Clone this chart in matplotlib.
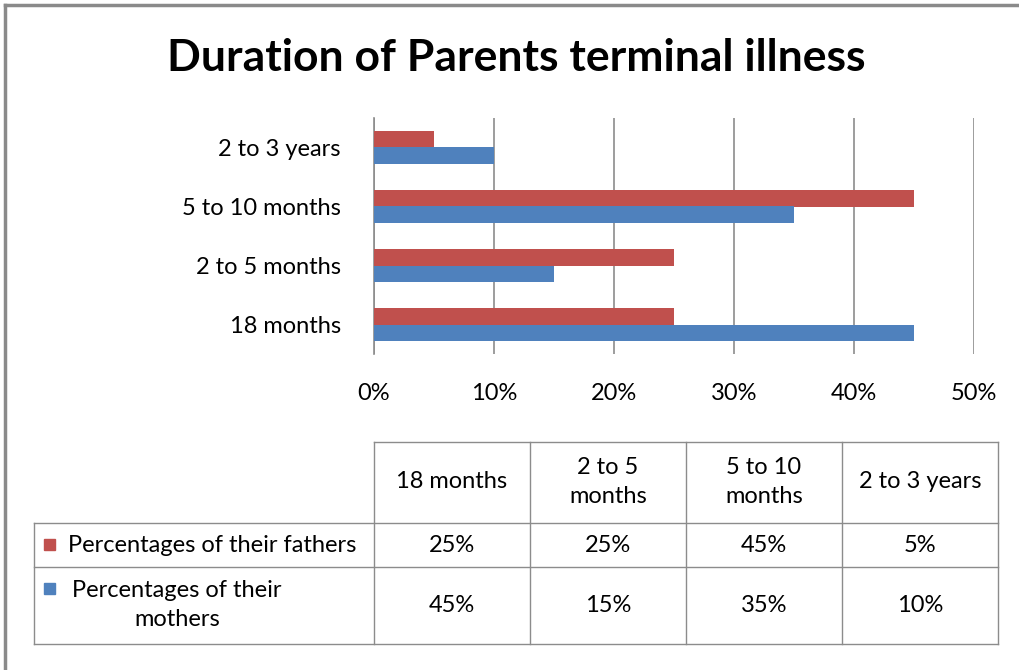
import numpy as np
import matplotlib.pyplot as plt
from matplotlib.patches import Rectangle

plt.rcParams['font.family'] = ['Lato', 'DejaVu Sans']

categories = ['18 months', '2 to 5 months', '5 to 10 months', '2 to 3 years']
header_labels = ['18 months', '2 to 5\nmonths', '5 to 10\nmonths', '2 to 3 years']
fathers = [25, 25, 45, 5]
mothers = [45, 15, 35, 10]
series_names = ['Percentages of their fathers', 'Percentages of their\nmothers']
x_ticks = [0, 10, 20, 30, 40, 50]

red = '#C0504D'
blue = '#4F81BD'
grid_col = '#8c8c8c'
fs = 17

W, H = 1019, 670
fig = plt.figure(figsize=(W / 100, H / 100), dpi=100)


def px_axes(x0, y0, x1, y1):
    # pixel box (top-left origin) -> axes
    return fig.add_axes([x0 / W, 1 - y1 / H, (x1 - x0) / W, (y1 - y0) / H])


# overlay for title, border and data table
ov = px_axes(0, 0, W, H)
ov.set_xlim(0, W)
ov.set_ylim(H, 0)
ov.axis('off')
ov.plot([5, W], [5, 5], color='#8a8a8a', lw=2.5)
ov.plot([5, 5], [5, H], color='#8a8a8a', lw=2.5)
ov.text(516, 58, 'Duration of Parents terminal illness', ha='center', va='center',
        fontsize=32, fontweight='bold')

# bar chart
ax = px_axes(374, 118, 974, 354)
y = np.arange(len(categories))
h = 0.28
ax.barh(y + h / 2, fathers, height=h, color=red, zorder=3)
ax.barh(y - h / 2, mothers, height=h, color=blue, zorder=3)
ax.set_xlim(0, 50)
ax.set_ylim(-0.5, 3.5)
ax.set_xticks(x_ticks)
ax.set_xticklabels([f'{v}%' for v in x_ticks], fontsize=fs)
ax.set_yticks(y)
ax.set_yticklabels(categories, fontsize=fs)
ax.tick_params(length=0, pad=24, axis='y')
ax.tick_params(length=0, pad=21, axis='x')
ax.grid(axis='x', color=grid_col, lw=1.2, zorder=0)
for s in ['top', 'right', 'bottom']:
    ax.spines[s].set_visible(False)
ax.spines['left'].set_color(grid_col)
ax.spines['left'].set_linewidth(1.2)

# data table
col_x = [374, 530, 686, 842, 998]
row_y = [442, 523, 567, 644]
lc = '#8c8c8c'
lw = 1.0
ov.plot([374, 998], [442, 442], color=lc, lw=lw)
for yy in row_y[1:]:
    ov.plot([34, 998], [yy, yy], color=lc, lw=lw)
ov.plot([34, 34], [523, 644], color=lc, lw=lw)
for xx in col_x:
    ov.plot([xx, xx], [442, 644], color=lc, lw=lw)

for i, lab in enumerate(header_labels):
    cx = (col_x[i] + col_x[i + 1]) / 2
    ov.text(cx, 482, lab, ha='center', va='center', fontsize=fs, linespacing=1.45)
for i in range(len(categories)):
    cx = (col_x[i] + col_x[i + 1]) / 2
    ov.text(cx, 545, f'{fathers[i]}%', ha='center', va='center', fontsize=fs)
    ov.text(cx, 605, f'{mothers[i]}%', ha='center', va='center', fontsize=fs)

ov.add_patch(Rectangle((44, 539), 11, 11, color=red))
ov.text(68, 545, series_names[0], ha='left', va='center', fontsize=fs)
ov.add_patch(Rectangle((44, 583), 11, 11, color=blue))
ov.text(177, 605, series_names[1], ha='center', va='center', fontsize=fs,
        multialignment='center', linespacing=1.45)

fig.savefig('out.png', dpi=100)
